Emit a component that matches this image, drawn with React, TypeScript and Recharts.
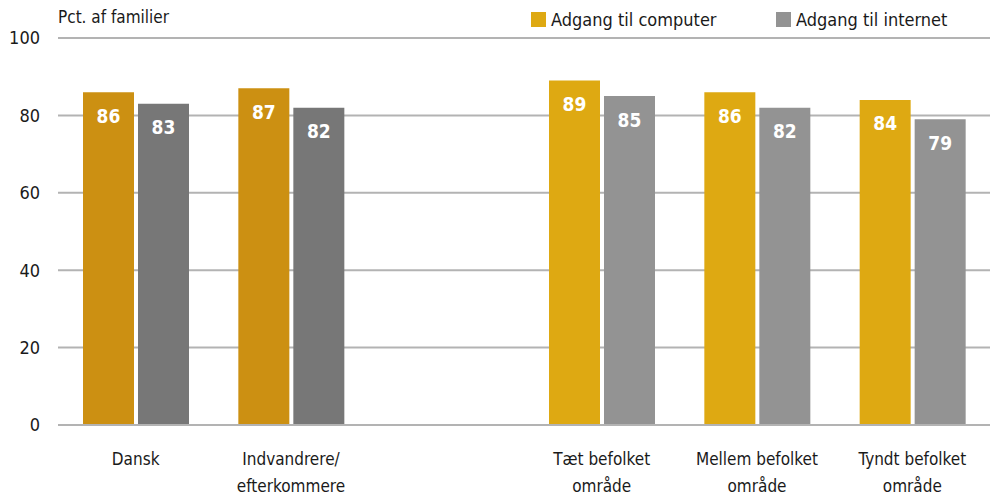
import { Bar, BarChart, CartesianGrid, XAxis, YAxis, LabelList, Cell } from "recharts"

const categories = ["Dansk", "Indvandrere/\nefterkommere", "", "Tæt befolket\nområde", "Mellem befolket\nområde", "Tyndt befolket\nområde"]
const computer = [86, 87, null, 89, 86, 84]
const internet = [83, 82, null, 85, 82, 79]
const computerColors = ["#CC9012", "#CC9012", "#CC9012", "#DEA912", "#DEA912", "#DEA912"]
const internetColors = ["#777777", "#777777", "#777777", "#939393", "#939393", "#939393"]
const yTicks = [0, 20, 40, 60, 80, 100]

const data = categories.map((name, i) => ({ name, computer: computer[i], internet: internet[i] }))

const font = "'DejaVu Sans Condensed', 'Liberation Sans Narrow', sans-serif"

function CategoryTick({ x, y, payload }: any) {
  const lines = String(payload.value).split("\n")
  return (
    <text x={x} y={y} textAnchor="middle" fill="#1a1a1a" fontSize={17} fontFamily={font}>
      {lines.map((l, i) => (
        <tspan key={i} x={x} dy={i === 0 ? 32 : 27}>{l}</tspan>
      ))}
    </text>
  )
}

const legendItems = [
  { label: "Adgang til computer", color: "#DEA912", left: 531 },
  { label: "Adgang til internet", color: "#939393", left: 776 },
]

export default function App() {
  return (
    <div style={{ position: "absolute", left: 0, top: 0, width: 997, height: 497, background: "#fff" }}>
      <BarChart
        width={997}
        height={497}
        data={data}
        margin={{ top: 38, right: 7, left: 0, bottom: 0 }}
        barGap={4}
        barSize={51}
      >
        <CartesianGrid vertical={false} stroke="#b3b3b3" strokeWidth={2} />
        <XAxis
          dataKey="name"
          height={72}
          interval={0}
          tickLine={false}
          axisLine={{ stroke: "#b3b3b3", strokeWidth: 2 }}
          tick={<CategoryTick />}
        />
        <YAxis
          width={58}
          domain={[0, 100]}
          ticks={yTicks}
          axisLine={false}
          tickLine={false}
          tickSize={0}
          tickMargin={18}
          tick={{ fill: "#1a1a1a", fontSize: 18, fontFamily: font }}
        />
        <Bar dataKey="computer" isAnimationActive={false}>
          {data.map((_, i) => <Cell key={i} fill={computerColors[i]} />)}
          <LabelList dataKey="computer" position="insideTop" offset={17} fill="#fff" fontSize={19} fontWeight="bold" fontFamily={font} />
        </Bar>
        <Bar dataKey="internet" isAnimationActive={false}>
          {data.map((_, i) => <Cell key={i} fill={internetColors[i]} />)}
          <LabelList dataKey="internet" position="insideTop" offset={17} fill="#fff" fontSize={19} fontWeight="bold" fontFamily={font} />
        </Bar>
      </BarChart>
      <div style={{ position: "absolute", left: 58, top: 7, fontFamily: font, fontSize: 17, color: "#1a1a1a" }}>
        Pct. af familier
      </div>
      {legendItems.map((it) => (
        <div key={it.label} style={{ position: "absolute", left: it.left, top: 9, display: "flex", alignItems: "center", fontFamily: font, fontSize: 18, color: "#1a1a1a" }}>
          <span style={{ width: 15, height: 15, background: it.color, display: "inline-block", marginRight: 5 }} />
          <span>{it.label}</span>
        </div>
      ))}
    </div>
  )
}
